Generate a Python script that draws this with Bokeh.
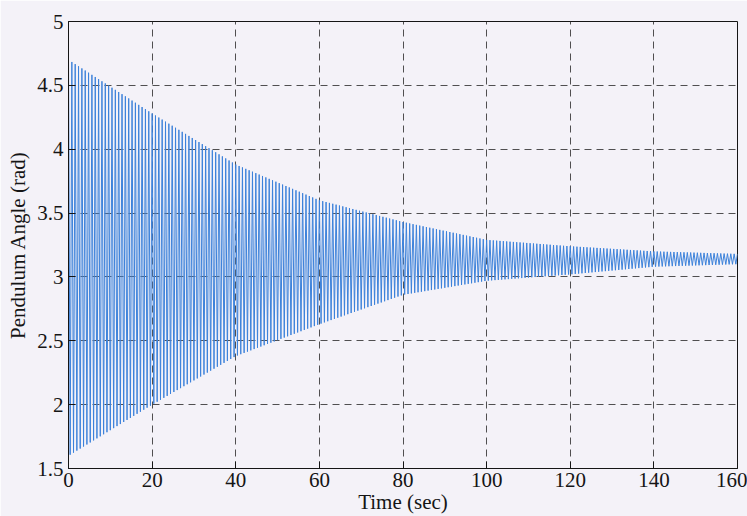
import numpy as np
from bokeh.plotting import figure
from bokeh.models import FixedTicker, ColumnDataSource
from bokeh.embed import file_html
from bokeh.resources import INLINE

# Envelope of the swinging pendulum (rad), read at every 20 s
env_time = [0, 20, 40, 60, 80, 100, 120, 140, 160]
env_upper = [4.70, 4.28, 3.88, 3.60, 3.43, 3.29, 3.24, 3.20, 3.18]
env_lower = [1.60, 2.00, 2.38, 2.63, 2.86, 2.97, 3.02, 3.08, 3.10]
swing_period = 0.8  # seconds per full swing

x_ticks = [0, 20, 40, 60, 80, 100, 120, 140, 160]
y_ticks = [1.5, 2, 2.5, 3, 3.5, 4, 4.5, 5]

# Turning points: alternate between the upper and lower envelope every half swing
turn_t = np.arange(0, 160 + 1e-9, swing_period / 2)
upper = np.interp(turn_t, env_time, env_upper)
lower = np.interp(turn_t, env_time, env_lower)
angle = np.where(np.arange(len(turn_t)) % 2 == 0, upper, lower)
src = ColumnDataSource(dict(t=turn_t, angle=angle))

FONT = "Liberation Serif"
BG = "#f4f2f8"
INK = "#151515"

p = figure(width=747, height=516, output_backend="svg", toolbar_location=None,
           x_range=(0, 160), y_range=(1.5, 5),
           min_border_left=68, min_border_right=10, min_border_top=21, min_border_bottom=47,
           background_fill_color=BG, border_fill_color=BG)

p.line("t", "angle", source=src, line_color="#3d82da", line_width=1.0)

p.outline_line_color = INK
p.outline_line_width = 1

for ax, ticks in ((p.xaxis, x_ticks), (p.yaxis, y_ticks)):
    ax.ticker = FixedTicker(ticks=ticks)
    ax.major_tick_in = 7
    ax.major_tick_out = 0
    ax.minor_tick_line_color = None
    ax.axis_line_color = INK
    ax.major_tick_line_color = INK
    ax.major_label_text_font = FONT
    ax.major_label_text_font_size = "21px"
    ax.major_label_text_color = INK
    ax.axis_label_text_font = FONT
    ax.axis_label_text_font_size = "21px"
    ax.axis_label_text_font_style = "normal"
    ax.axis_label_text_color = INK

p.xaxis.axis_label = "Time (sec)"
p.yaxis.axis_label = "Pendulum Angle (rad)"
p.xaxis.major_label_standoff = 4
p.xaxis.axis_label_standoff = 0
p.yaxis.major_label_standoff = 5
p.yaxis.axis_label_standoff = 4

for g in (p.xgrid, p.ygrid):
    g.grid_line_color = "#333333"
    g.grid_line_dash = "7 5"
    g.grid_line_width = 1
    g.grid_line_alpha = 0.85
p.xgrid.ticker = FixedTicker(ticks=x_ticks)
p.ygrid.ticker = FixedTicker(ticks=y_ticks)

open("out.html", "w").write(file_html(p, INLINE))
